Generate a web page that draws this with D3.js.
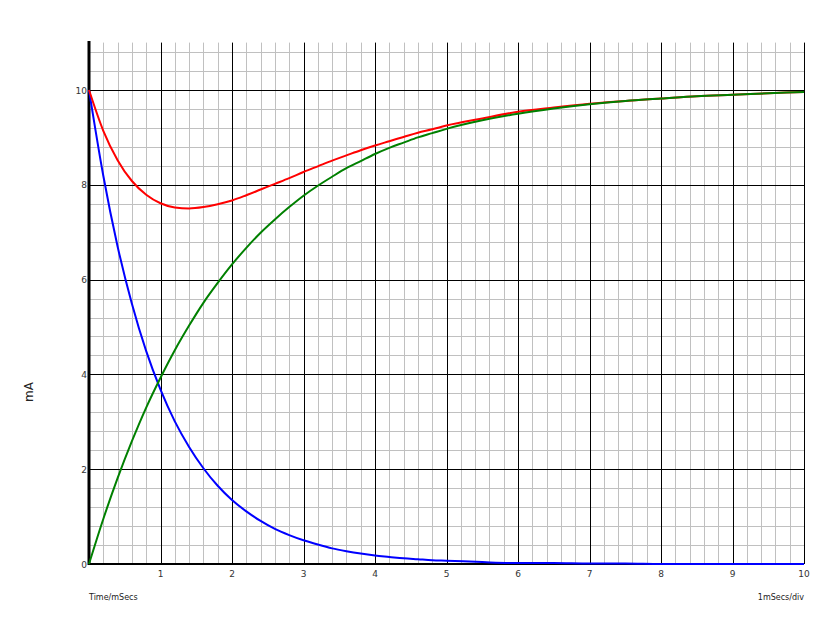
<!DOCTYPE html>
<html>
<head>
<meta charset="utf-8">
<script src="https://cdn.jsdelivr.net/npm/d3@7"></script>
<style>
  body { margin: 0; background: #fff; }
  text { font-family: "DejaVu Sans", sans-serif; }
</style>
</head>
<body>
<script>
// values (mA against mSecs)
const times   = [0, 0.2, 0.4, 0.6, 0.8, 1.0, 1.2, 1.4, 1.6, 1.8, 2.0, 2.2, 2.4, 2.6, 2.8, 3.0, 3.2, 3.4, 3.6, 3.8,
                 4.0, 4.2, 4.4, 4.6, 4.8, 5.0, 5.5, 6.0, 6.5, 7.0, 7.5, 8.0, 8.5, 9.0, 9.5, 10];
const blueVals  = [10, 8.19, 6.70, 5.49, 4.49, 3.68, 3.01, 2.47, 2.02, 1.65, 1.35, 1.11, 0.91, 0.74, 0.61, 0.50, 0.41, 0.33, 0.27, 0.22,
                   0.18, 0.15, 0.12, 0.10, 0.08, 0.07, 0.04, 0.02, 0.02, 0.01, 0.01, 0, 0, 0, 0, 0];
const greenVals = [0, 0.95, 1.81, 2.59, 3.30, 3.93, 4.51, 5.03, 5.51, 5.93, 6.32, 6.67, 6.99, 7.27, 7.53, 7.77, 7.98, 8.17, 8.35, 8.50,
                   8.65, 8.78, 8.89, 9.00, 9.09, 9.18, 9.36, 9.50, 9.61, 9.70, 9.77, 9.82, 9.87, 9.90, 9.93, 9.96];
const redVals   = [10, 9.14, 8.52, 8.08, 7.79, 7.61, 7.52, 7.50, 7.53, 7.59, 7.67, 7.78, 7.90, 8.02, 8.14, 8.27, 8.39, 8.51, 8.62, 8.73,
                   8.83, 8.92, 9.01, 9.10, 9.17, 9.25, 9.40, 9.54, 9.63, 9.71, 9.77, 9.82, 9.87, 9.90, 9.93, 9.96];
const xTicks = [0, 1, 2, 3, 4, 5, 6, 7, 8, 9, 10];
const yTicks = [0, 2, 4, 6, 8, 10];

const width = 840, height = 630;
const plotLeft = 89, plotRight = 804, plotTop = 42.6, plotBottom = 564;

let svg = d3.select("body")
  .append("svg")
  .attr("width", width)
  .attr("height", height);

const x = d3.scaleLinear().domain([0, 10]).range([plotLeft, plotRight]);
const y = d3.scaleLinear().domain([0, 11]).range([plotBottom, plotTop]);

// minor grid
svg.append("g")
  .selectAll("line")
  .data(d3.range(1, 50).filter(i => i % 5 != 0).map(i => i * 0.2))
  .enter().append("line")
  .attr("x1", d => Math.round(x(d)) + 0.5).attr("x2", d => Math.round(x(d)) + 0.5)
  .attr("y1", plotTop).attr("y2", plotBottom)
  .attr("stroke", "#c0c0c0");

svg.append("g")
  .selectAll("line")
  .data(d3.range(1, 28).filter(i => i % 5 != 0).map(i => i * 0.4))
  .enter().append("line")
  .attr("x1", plotLeft).attr("x2", plotRight)
  .attr("y1", d => Math.round(y(d)) + 0.5).attr("y2", d => Math.round(y(d)) + 0.5)
  .attr("stroke", "#c0c0c0");

// major grid
svg.append("g")
  .selectAll("line")
  .data(xTicks.slice(1))
  .enter().append("line")
  .attr("x1", d => Math.round(x(d)) + 0.5).attr("x2", d => Math.round(x(d)) + 0.5)
  .attr("y1", plotTop).attr("y2", plotBottom)
  .attr("stroke", "#000");

svg.append("g")
  .selectAll("line")
  .data(yTicks.slice(1))
  .enter().append("line")
  .attr("x1", plotLeft).attr("x2", plotRight)
  .attr("y1", d => Math.round(y(d)) + 0.5).attr("y2", d => Math.round(y(d)) + 0.5)
  .attr("stroke", "#000");

// axes lines
svg.append("line")
  .attr("x1", plotLeft).attr("x2", plotRight).attr("y1", plotBottom).attr("y2", plotBottom)
  .attr("stroke", "#000").attr("stroke-width", 2);
svg.append("line")
  .attr("x1", plotLeft).attr("x2", plotLeft).attr("y1", plotTop - 1.5).attr("y2", plotBottom + 1)
  .attr("stroke", "#000").attr("stroke-width", 3);

// traces
const series = [
  { vals: blueVals, color: "#0000ff" },
  { vals: greenVals, color: "#008000" },
  { vals: redVals, color: "#ff0000" }
];
const line = d3.line()
  .x(d => x(d[0]))
  .y(d => y(d[1]))
  .curve(d3.curveMonotoneX);

svg.append("g")
  .selectAll("path")
  .data([series[0], series[2], series[1]])
  .enter().append("path")
  .attr("d", s => line(times.map((t, i) => [t, s.vals[i]])))
  .attr("fill", "none")
  .attr("stroke", s => s.color)
  .attr("stroke-width", 2);

// tick labels
svg.append("g")
  .selectAll("text")
  .data(xTicks.slice(1))
  .enter().append("text")
  .attr("x", d => x(d))
  .attr("y", plotBottom + 13)
  .attr("text-anchor", "middle")
  .attr("font-size", 9)
  .attr("fill", "#333")
  .text(d => d);

svg.append("g")
  .selectAll("text")
  .data(yTicks)
  .enter().append("text")
  .attr("x", plotLeft - 2)
  .attr("y", d => y(d) + 3.5)
  .attr("text-anchor", "end")
  .attr("font-size", 9)
  .attr("fill", "#333")
  .text(d => d);

// labels
svg.append("text")
  .attr("x", plotLeft)
  .attr("y", 600)
  .attr("font-size", 8)
  .attr("fill", "#222")
  .text("Time/mSecs");

svg.append("text")
  .attr("x", plotRight)
  .attr("y", 600)
  .attr("text-anchor", "end")
  .attr("font-size", 8)
  .attr("fill", "#222")
  .text("1mSecs/div");

svg.append("text")
  .attr("transform", "translate(33,392) rotate(-90)")
  .attr("text-anchor", "middle")
  .attr("font-size", 12)
  .attr("fill", "#222")
  .text("mA");
</script>
</body>
</html>
